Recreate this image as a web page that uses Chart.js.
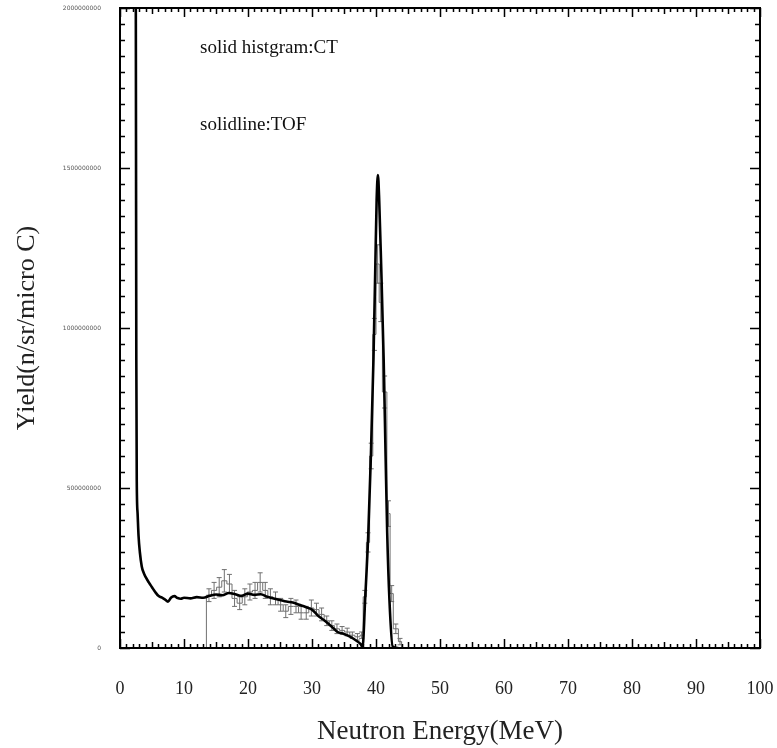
<!DOCTYPE html>
<html><head><meta charset="utf-8">
<script src="https://cdn.jsdelivr.net/npm/chart.js@4.4.0/dist/chart.umd.min.js"></script>
<style>html,body{margin:0;padding:0;background:#fff;}#wrap{width:777px;height:748px;}</style>
</head><body><div id="wrap"><canvas id="c" width="777" height="748"></canvas></div>
<script>
// ---- data ----
const xTickLabels = ['0','10','20','30','40','50','60','70','80','90','100'];
const yTickLabels = ['0','500000000','1000000000','1500000000','2000000000'];
const annotationTexts = ['solid histgram:CT', 'solidline:TOF'];

// TOF solid line (energy in MeV, yield in n/sr/microC)
const tofEnergy = [2.45,2.5,2.55,2.62,2.75,2.9,3.1,3.4,3.7,4.0,4.5,5.0,5.5,6.0,6.5,7.0,7.5,8.0,8.5,9.0,9.5,10,11,12,13,14,15,16,17,18,19,20,21,22,23,24,25,26,27,28,29,30,31,32,33,34,35,36,37,37.6,37.9,38.3,38.8,39.2,39.6,39.9,40.1,40.3,40.5,40.8,41.2,41.5,41.75,42.1,42.6,43.5];
const tofYield = [2.3e9,1.6e9,0.9e9,0.52e9,0.42e9,0.35e9,0.30e9,0.255e9,0.235e9,0.222e9,0.205e9,0.19e9,0.175e9,0.163e9,0.158e9,0.152e9,0.145e9,0.158e9,0.162e9,0.156e9,0.154e9,0.157e9,0.155e9,0.159e9,0.157e9,0.163e9,0.167e9,0.165e9,0.172e9,0.168e9,0.163e9,0.17e9,0.166e9,0.168e9,0.16e9,0.155e9,0.15e9,0.145e9,0.142e9,0.135e9,0.128e9,0.12e9,0.10e9,0.085e9,0.068e9,0.05e9,0.044e9,0.035e9,0.022e9,0.012e9,0.003e9,0.15e9,0.36e9,0.6e9,0.9e9,1.2e9,1.4e9,1.478e9,1.4e9,1.2e9,0.9e9,0.6e9,0.36e9,0.15e9,0.005e9,0];

// CT histogram: bin edges (MeV), bin contents and errors
const ctEdges = [13.5,14.3,15.1,15.9,16.7,17.5,18.3,19.1,19.9,20.7,21.5,22.3,23.1,23.9,24.7,25.5,26.3,27.1,27.9,28.7,29.5,30.3,31.1,31.9,32.7,33.5,34.3,35.1,35.9,36.7,37.5,38.0,38.5,39.0,39.5,40.0,40.5,41.0,41.7,42.2,42.7,43.5,44.0];
const ctYield = [0.165e9,0.18e9,0.19e9,0.21e9,0.20e9,0.155e9,0.14e9,0.16e9,0.175e9,0.18e9,0.205e9,0.18e9,0.16e9,0.155e9,0.135e9,0.115e9,0.13e9,0.13e9,0.11e9,0.11e9,0.125e9,0.12e9,0.105e9,0.085e9,0.07e9,0.06e9,0.055e9,0.05e9,0.04e9,0.035e9,0.04e9,0.16e9,0.33e9,0.6e9,0.98e9,1.2e9,1.08e9,0.8e9,0.42e9,0.17e9,0.06e9,0.02e9];
const ctError = [0.02e9,0.025e9,0.03e9,0.035e9,0.03e9,0.025e9,0.02e9,0.025e9,0.025e9,0.025e9,0.03e9,0.025e9,0.025e9,0.02e9,0.02e9,0.02e9,0.025e9,0.02e9,0.02e9,0.02e9,0.025e9,0.02e9,0.02e9,0.015e9,0.015e9,0.015e9,0.012e9,0.012e9,0.01e9,0.01e9,0.01e9,0.02e9,0.03e9,0.04e9,0.05e9,0.06e9,0.06e9,0.05e9,0.04e9,0.025e9,0.015e9,0.01e9];

// ---- build datasets ----
const tofPoints = tofEnergy.map((e, i) => ({x: e, y: tofYield[i]}));
const ctPoints = [{x: ctEdges[0], y: 0}];
ctYield.forEach((v, i) => ctPoints.push({x: ctEdges[i], y: v}));
ctPoints.push({x: ctEdges[ctEdges.length - 1], y: 0});

const SERIF = '"Liberation Serif", "Times New Roman", serif';

const errorBars = {
  id: 'errorBars',
  beforeDatasetsDraw(chart) {
    const {ctx, chartArea: a, scales: {x, y}} = chart;
    ctx.save();
    ctx.beginPath(); ctx.rect(a.left, a.top, a.width, a.height); ctx.clip();
    ctx.strokeStyle = '#707070'; ctx.lineWidth = 1;
    ctYield.forEach((v, i) => {
      const xc = x.getPixelForValue((ctEdges[i] + ctEdges[i + 1]) / 2);
      const y1 = y.getPixelForValue(v - ctError[i]);
      const y2 = y.getPixelForValue(v + ctError[i]);
      ctx.beginPath();
      ctx.moveTo(xc, y1); ctx.lineTo(xc, y2);
      ctx.moveTo(xc - 2.5, y1); ctx.lineTo(xc + 2.5, y1);
      ctx.moveTo(xc - 2.5, y2); ctx.lineTo(xc + 2.5, y2);
      ctx.stroke();
    });
    ctx.restore();
  }
};

const frameTicks = {
  id: 'frameTicks',
  afterDraw(chart) {
    const {ctx, chartArea: a, scales: {x, y}} = chart;
    ctx.save();
    ctx.strokeStyle = '#000'; ctx.lineWidth = 1.5;
    ctx.beginPath();
    for (let e = 0; e <= 100; e += 1) {
      const px = Math.round(x.getPixelForValue(e)) + 0.5;
      const len = e % 10 === 0 ? 9 : (e % 5 === 0 ? 6 : 4);
      ctx.moveTo(px, a.bottom); ctx.lineTo(px, a.bottom - len);
      ctx.moveTo(px, a.top); ctx.lineTo(px, a.top + len);
    }
    for (let k = 0; k <= 40; k++) {
      const py = Math.round(y.getPixelForValue(k * 5e7)) + 0.5;
      const len = k % 10 === 0 ? 10 : 5;
      ctx.moveTo(a.left, py); ctx.lineTo(a.left + len, py);
      ctx.moveTo(a.right, py); ctx.lineTo(a.right - len, py);
    }
    ctx.stroke();
    ctx.lineWidth = 2;
    ctx.strokeRect(a.left, a.top, a.width, a.height);
    ctx.fillStyle = '#111';
    ctx.font = '19px ' + SERIF;
    ctx.textBaseline = 'alphabetic';
    ctx.textAlign = 'left';
    ctx.fillText(annotationTexts[0], x.getPixelForValue(12.5), y.getPixelForValue(1.859e9));
    ctx.fillText(annotationTexts[1], x.getPixelForValue(12.5), y.getPixelForValue(1.619e9));
    ctx.restore();
  }
};

new Chart(document.getElementById('c'), {
  type: 'line',
  data: {
    datasets: [
      {
        label: 'TOF', data: tofPoints, borderColor: '#000', borderWidth: 2.6,
        pointRadius: 0, fill: false, cubicInterpolationMode: 'monotone', tension: 0.4
      },
      {
        label: 'CT', data: ctPoints, borderColor: '#707070', borderWidth: 1,
        pointRadius: 0, fill: false, stepped: 'before'
      }
    ]
  },
  options: {
    responsive: false, animation: false, devicePixelRatio: 1,
    layout: {padding: {left: 0, top: 8, right: 17, bottom: 0}},
    plugins: {legend: {display: false}, tooltip: {enabled: false}},
    scales: {
      x: {
        type: 'linear', min: 0, max: 100,
        grid: {display: false}, border: {display: false},
        afterFit: s => { s.height = 100; s.paddingLeft = 0; s.paddingRight = 0; },
        ticks: {
          stepSize: 10, padding: 22, maxRotation: 0, color: '#222',
          font: {family: SERIF, size: 18},
          callback: (v, i) => xTickLabels[i]
        },
        title: {
          display: true, text: 'Neutron Energy(MeV)', color: '#222',
          font: {family: SERIF, size: 27, lineHeight: 1.2}, padding: {top: 0, bottom: 0}
        }
      },
      y: {
        type: 'linear', min: 0, max: 2e9,
        grid: {display: false}, border: {display: false},
        afterFit: s => { s.width = 120; s.paddingTop = 0; s.paddingBottom = 0; },
        ticks: {
          stepSize: 5e8, padding: 11, color: '#555',
          font: {family: '"DejaVu Sans", sans-serif', size: 6},
          callback: (v, i) => yTickLabels[i]
        },
        title: {
          display: true, text: 'Yield(n/sr/micro C)', color: '#222',
          font: {family: SERIF, size: 26, lineHeight: 1.2}, padding: {top: 12, bottom: 0}
        }
      }
    }
  },
  plugins: [errorBars, frameTicks]
});
</script></body></html>
